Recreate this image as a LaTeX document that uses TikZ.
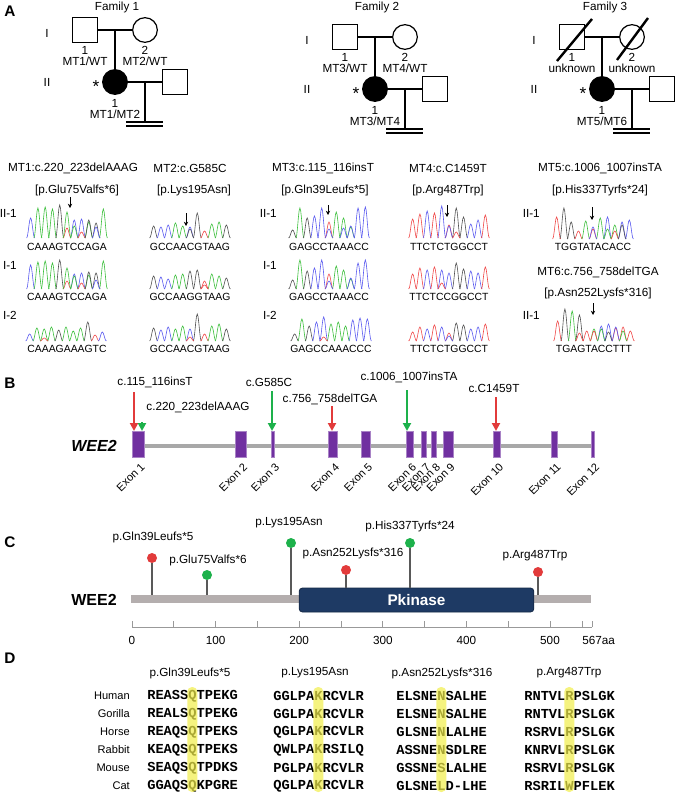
\documentclass[tikz,border=0pt]{standalone}
\usepackage{fontspec}
\setmainfont{Liberation Sans}
\newfontfamily\alnfont{Liberation Mono}
\usetikzlibrary{positioning,calc,arrows.meta}

\definecolor{baseA}{HTML}{3CC03C}
\definecolor{baseC}{HTML}{5A5AF0}
\definecolor{baseG}{HTML}{505050}
\definecolor{baseT}{HTML}{F04848}
\definecolor{exonpurple}{HTML}{7030A0}
\definecolor{genegray}{HTML}{A8A8A8}
\definecolor{mutred}{HTML}{E23B3B}
\definecolor{mutgreen}{HTML}{1DB14B}
\definecolor{bargray}{HTML}{B4AEAE}
\definecolor{kinblue}{HTML}{1E3A64}
\definecolor{stemgray}{HTML}{595959}
\definecolor{hilite}{HTML}{F2EE4A}

\tikzset{
  lbl/.style={font=\fontsize{8.8}{8.3}\selectfont, inner sep=0pt, align=center},
  panel/.style={font=\bfseries\fontsize{11.5}{12}\selectfont, inner sep=0pt},
  male/.style={draw, line width=0.9pt, minimum size=18.5pt, inner sep=0pt},
  female/.style={draw, circle, line width=0.9pt, minimum size=18.5pt, inner sep=0pt},
  affected/.style={female, fill=black},
  pedline/.style={line width=0.9pt},
  deceased/.style={line width=1.8pt},
  peak/.style={line width=0.45pt},
  seqtxt/.style={font=\fontsize{7.8}{8}\selectfont, inner sep=0pt},
  seqarrow/.style={-{Stealth[length=3.2pt,width=3.2pt]}, line width=0.7pt},
  exonbox/.style={fill=exonpurple, draw=exonpurple!60, line width=0.4pt},
  exonlbl/.style={font=\fontsize{8.3}{8}\selectfont, inner sep=0pt, rotate=45, anchor=north east},
  mutarrow/.style={-{Triangle[length=6pt,width=6pt]}, line width=1.6pt},
  pin/.style={circle, inner sep=0pt, minimum size=7.5pt},
  stem/.style={stemgray, line width=1.5pt},
  axisln/.style={gray!80, line width=0.5pt},
  kinase/.style={fill=kinblue, draw=kinblue!70!black, rounded corners=2.5pt, line width=0.6pt,
    minimum width=176pt, minimum height=18pt, text=white, font=\bfseries\fontsize{11.5}{12}\selectfont},
  sp/.style={font=\fontsize{8.3}{8}\selectfont, inner sep=0pt, anchor=east},
  aln/.style={font=\alnfont\bfseries\fontsize{10.3}{10}\selectfont, inner sep=0pt, anchor=west},
}

% one pedigree: name, x and y of I-1, labels of I-1, I-2, II-1
\newcommand{\pedigree}[6]{%
  \node[male] (#1a) at (#2,#3) {};
  \node[female] (#1b) at ($(#1a)+(60,0)$) {};
  \node[affected] (#1c) at ($(#1a)+(30,52)$) {};
  \node[male] (#1d) at ($(#1a)+(90,52)$) {};
  \draw[pedline] (#1a) -- (#1b);
  \draw[pedline] ($(#1a)!.5!(#1b)$) -- (#1c);
  \draw[pedline] (#1c) -- (#1d);
  \coordinate (#1k) at ($(#1c)!.5!(#1d)$);
  \coordinate (#1n) at ($(#1k)+(0,40)$);
  \draw[pedline] (#1k) -- (#1n);
  \draw[pedline] ($(#1n)+(-19,0)$) -- ++(37,0) ($(#1n)+(-19,4)$) -- ++(37,0);
  \node[lbl, below=2.5pt of #1a] (#1al) {1\\#4};
  \node[lbl, below=2.5pt of #1b] (#1bl) {2\\#5};
  \node[lbl, below=3pt of #1c] (#1cl) {1\\#6};
  \node[lbl] (#1g1) at ($(#1a)+(-38,3)$) {I};
  \node[lbl] (#1g2) at ($(#1a)+(-38,52)$) {II};
  \node[font=\fontsize{13}{13}\selectfont, inner sep=0pt] (#1s) at ($(#1a)+(11,57)$) {*};
}

% one trace: left x, baseline y, base/height list, extra pos/base/height list
\newcommand{\chromo}[4]{%
  \foreach \nb/\pk [count=\i] in {#3}
    \draw[peak, base\nb] plot[domain=-1:1, samples=11]
      ({#1+(\i-0.5)*7.27+4*\x}, {#2-\pk*(1+cos(180*\x))/2});
  \foreach \ps/\nb/\pk in {#4}
    \draw[peak, base\nb] plot[domain=-1:1, samples=11]
      ({#1+(\ps-0.5)*7.27+4*\x}, {#2-\pk*(1+cos(180*\x))/2});
}

\begin{document}
\begin{tikzpicture}[x=0.75pt, y=-0.75pt]
  \useasboundingbox (0,0) rectangle (676,793);
  \fill[white] (0,0) rectangle (676,793);

  % A: pedigrees
  \node[panel] (pa) at (10,11) {A};
  \node[lbl] (fam1) at (117,7) {Family 1};
  \node[lbl] (fam2) at (377,7) {Family 2};
  \node[lbl] (fam3) at (605,7) {Family 3};
  \pedigree{f1}{85}{30}{MT1/WT}{MT2/WT}{MT1/MT2}
  \pedigree{f2}{345}{37}{MT3/WT}{MT4/WT}{MT3/MT4}
  \pedigree{f3}{572}{37}{unknown}{unknown}{MT5/MT6}
  \draw[deceased] ($(f3a)+(-15,24)$) -- ($(f3a)+(20,-18)$);
  \draw[deceased] ($(f3b)+(-15,23)$) -- ($(f3b)+(16,-19)$);

  % A: sequencing
  \node[lbl] (h1) at (73,168) {MT1:c.220\_223delAAAG};
  \node[lbl] (p1) at (77,190) {[p.Glu75Valfs*6]};
  \node[lbl] (h2) at (190,168) {MT2:c.G585C};
  \node[lbl] (p2) at (194,190) {[p.Lys195Asn]};
  \node[lbl] (h3) at (323,168) {MT3:c.115\_116insT};
  \node[lbl] (p3) at (325,190) {[p.Gln39Leufs*5]};
  \node[lbl] (h4) at (448,168) {MT4:c.C1459T};
  \node[lbl] (p4) at (448,190) {[p.Arg487Trp]};
  \node[lbl] (h5) at (600,168) {MT5:c.1006\_1007insTA};
  \node[lbl] (p5) at (600,190) {[p.His337Tyrfs*24]};
  \node[lbl] (h6) at (598,272) {MT6:c.756\_758delTGA};
  \node[lbl] (p6) at (598,293) {[p.Asn252Lysfs*316]};

  \foreach \r/\y in {II-1/213, I-1/265, I-2/315} {
    \node[lbl, anchor=east] at (17,\y) {\r};
    \node[lbl, anchor=east] at (277,\y) {\r};
  }
  \node[lbl, anchor=east] (r51) at (540,213) {II-1};
  \node[lbl, anchor=east] (r61) at (540,315) {II-1};

  \node[seqtxt] (t11) at (67,247) {CAAAGTCCAGA};
  \node[seqtxt] (t12) at (67,297) {CAAAGTCCAGA};
  \node[seqtxt] (t13) at (67,349) {CAAAGAAAGTC};
  \node[seqtxt] (t21) at (190,247) {GCCAACGTAAG};
  \node[seqtxt] (t22) at (190,297) {GCCAAGGTAAG};
  \node[seqtxt] (t23) at (190,349) {GCCAACGTAAG};
  \node[seqtxt] (t31) at (329,247) {GAGCCTAAACC};
  \node[seqtxt] (t32) at (329,297) {GAGCCTAAACC};
  \node[seqtxt] (t33) at (331,349) {GAGCCAAACCC};
  \node[seqtxt] (t41) at (449,247) {TTCTCTGGCCT};
  \node[seqtxt] (t42) at (449,297) {TTCTCCGGCCT};
  \node[seqtxt] (t43) at (449,349) {TTCTCTGGCCT};
  \node[seqtxt] (t51) at (593,247) {TGGTATACACC};
  \node[seqtxt] (t61) at (594,349) {TGAGTACCTTT};

  \chromo{27}{238}{C/20,A/30,A/31,A/29,G/33,T/10,C/18,C/19,A/16,G/15,A/29}{6/A/26,7/A/12,8/T/6,9/G/18,10/C/11}
  \chromo{27}{289}{C/24,A/27,A/28,A/26,G/29,T/8,C/15,C/16,A/14,G/16,A/28}{6/A/21,7/A/13,8/T/6,9/G/17,10/C/9}
  \chromo{26}{341}{C/7,A/13,A/12,A/14,G/11,A/14,A/10,A/13,G/19,T/6,C/9}{3/T/3}
  \chromo{150}{238}{G/12,C/11,C/13,A/15,A/12,C/11,G/25,T/7,A/14,A/16,G/13}{6/G/9}
  \chromo{150}{289}{G/13,C/12,C/10,A/14,A/15,G/18,G/19,T/8,A/15,A/13,G/11}{8/T/4}
  \chromo{150}{341}{G/13,C/11,C/14,A/12,A/15,C/12,G/27,T/7,A/15,A/17,G/12}{6/T/4}
  \chromo{289}{238}{G/8,A/30,G/20,C/22,C/30,T/16,A/26,A/20,A/11,C/30,C/31}{6/C/9,8/C/10,9/C/12}
  \chromo{289}{289}{G/9,A/29,G/18,C/21,C/29,T/15,A/23,A/19,A/10,C/26,C/29}{6/C/8,9/C/11}
  \chromo{291}{341}{G/7,A/22,G/15,C/19,C/24,A/17,A/19,A/15,C/21,C/23,C/22}{5/T/4}
  \chromo{409}{238}{T/19,T/24,C/27,T/25,C/32,T/13,G/30,G/21,C/14,C/18,T/23}{6/C/12,7/T/6}
  \chromo{409}{289}{T/15,T/21,C/19,T/22,C/19,C/16,G/26,G/20,C/18,C/16,T/22}{5/T/6}
  \chromo{409}{341}{T/9,T/14,C/12,T/16,C/14,T/8,G/18,G/16,C/12,C/14,T/17}{6/C/5}
  \chromo{553}{239}{T/22,G/31,G/17,T/8,A/18,T/10,A/21,C/22,A/14,C/17,C/19}{6/C/12,8/A/10,9/T/8,10/G/14}
  \chromo{554}{341}{T/20,G/32,A/30,G/26,T/10,A/12,C/15,C/17,T/13,T/14,T/10}{4/T/8,6/T/10,7/A/12,8/G/9,9/C/14,10/A/10}

  \draw[seqarrow] (70,197) -- (70,208);
  \draw[seqarrow] (186,213) -- (186,226);
  \draw[seqarrow] (328,205) -- (328,215);
  \draw[seqarrow] (447,205) -- (447,217);
  \draw[seqarrow] (592,207) -- (592,220);
  \draw[seqarrow] (593,303) -- (593,315);

  % B: gene structure
  \node[panel] (pb) at (10,383) {B};
  \node[font=\bfseries\itshape\fontsize{12}{12}\selectfont, inner sep=0pt] (geneB) at (94,446) {WEE2};
  \draw[genegray, line width=3pt] (133,446) -- (593,446);
  \foreach \xa/\xb [count=\k] in {132/144, 235/246, 271/274, 328/337, 361/370, 406/413,
      421/426, 431/436, 443/453, 493/500, 551/557, 591/594} {
    \draw[exonbox] (\xa,431) rectangle (\xb,457);
    \coordinate (ex\k) at ({(\xa+\xb)/2},431);
    \node[exonlbl] at ({(\xa+\xb)/2+2},462) {Exon \k};
  }
  \node[lbl] (mt1) at (155,382) {c.115\_116insT};
  \node[lbl] (mt2) at (198,407) {c.220\_223delAAAG};
  \node[lbl] (mt3) at (269,382) {c.G585C};
  \node[lbl] (mt4) at (330,399) {c.756\_758delTGA};
  \node[lbl] (mt5) at (409,377) {c.1006\_1007insTA};
  \node[lbl] (mt6) at (494,388) {c.C1459T};
  \coordinate (a1) at (134,392);
  \coordinate (a2) at (142,422);
  \coordinate (a3) at (272,391);
  \coordinate (a4) at (332,406);
  \coordinate (a5) at (407,390);
  \coordinate (a6) at (496,397);
  \draw[mutarrow, mutred] (a1) -- (a1 |- ex1);
  \draw[mutarrow, mutgreen] (a2) -- (a2 |- ex1);
  \draw[mutarrow, mutgreen] (a3) -- (a3 |- ex3);
  \draw[mutarrow, mutred] (a4) -- (a4 |- ex4);
  \draw[mutarrow, mutgreen] (a5) -- (a5 |- ex6);
  \draw[mutarrow, mutred] (a6) -- (a6 |- ex10);

  % C: protein
  \node[panel] (pc) at (10,542) {C};
  \node[font=\bfseries\fontsize{12}{12}\selectfont, inner sep=0pt] (protC) at (94,600) {WEE2};
  \node[fill=bargray, minimum width=345pt, minimum height=6pt, inner sep=0pt] (bar) at (361,599) {};
  \node[kinase] (pk) at (416.5,600) {Pkinase};
  \node[pin, fill=mutred] (l1) at (152,558) {};
  \node[pin, fill=mutgreen] (l2) at (207,575) {};
  \node[pin, fill=mutgreen] (l3) at (291,543) {};
  \node[pin, fill=mutred] (l4) at (346,570) {};
  \node[pin, fill=mutgreen] (l5) at (410,543) {};
  \node[pin, fill=mutred] (l6) at (538,572) {};
  \draw[stem] (l1) -- (l1 |- bar.north);
  \draw[stem] (l2) -- (l2 |- bar.north);
  \draw[stem] (l3) -- (l3 |- bar.north);
  \draw[stem] (l4) -- (l4 |- pk.north);
  \draw[stem] (l5) -- (l5 |- pk.north);
  \draw[stem] (l6) -- (l6 |- bar.north);
  \node[lbl] (ml1) at (153,537) {p.Gln39Leufs*5};
  \node[lbl] (ml2) at (208,560) {p.Glu75Valfs*6};
  \node[lbl] (ml3) at (289,523) {p.Lys195Asn};
  \node[lbl] (ml4) at (353,553) {p.Asn252Lysfs*316};
  \node[lbl] (ml5) at (410,526) {p.His337Tyrfs*24};
  \node[lbl] (ml6) at (535,556) {p.Arg487Trp};
  \draw[axisln] (132,627) -- (592,627);
  \foreach \k in {0,...,10}
    \draw[axisln] ({132+41.8*\k},621) -- ++(0,6);
  \draw[axisln] (582,621) -- ++(0,6) (592,621) -- ++(0,6);
  \foreach \v [count=\k from 0] in {0,100,200,300,400,500}
    \node[lbl] at ({132+83.6*\k},640) {\v};
  \node[lbl, anchor=west] (aaend) at (582,640) {567aa};

  % D: alignment
  \node[panel] (pd) at (10,658) {D};
  \node[lbl] (d1) at (190,673) {p.Gln39Leufs*5};
  \node[lbl] (d2) at (315,673) {p.Lys195Asn};
  \node[lbl] (d3) at (442,673) {p.Asn252Lysfs*316};
  \node[lbl] (d4) at (569,673) {p.Arg487Trp};
  \foreach \spc/\sa/\sb/\sc/\sd [count=\r] in {
      Human/REASSQTPEKG/GGLPAKRCVLR/ELSNENSALHE/RNTVLRPSLGK,
      Gorilla/REALSQTPEKG/GGLPAKRCVLR/ELSNENSALHE/RNTVLRPSLGK,
      Horse/REAQSQTPEKS/QGLPAKRCVLR/GLSNENLALHE/RSRVLRPSLGK,
      Rabbit/KEAQSQTPEKS/QWLPAKRSILQ/ASSNENSDLRE/KNRVLRPSLGK,
      Mouse/SEAQSQTPDKS/PGLPAKRCVLR/GSSNESLALHE/RSRVLRPSLGK,
      Cat/GGAQSQKPGRE/QGLPAKRCVLR/GLSNELD-LHE/RSRILWPFLEK} {
    \node[sp] at (130,{678+18*\r}) {\spc};
    \node[aln] at (147,{678+18*\r}) {\sa};
    \node[aln] at (273,{678+18*\r}) {\sb};
    \node[aln] at (396,{678+18*\r}) {\sc};
    \node[aln] at (524,{678+18*\r}) {\sd};
  }
  \foreach \hx in {192.3,318.3,441.3,569.3}
    \fill[hilite, opacity=0.7, rounded corners=3.5pt] (\hx-5,687) rectangle (\hx+5,792);
\end{tikzpicture}
\end{document}
